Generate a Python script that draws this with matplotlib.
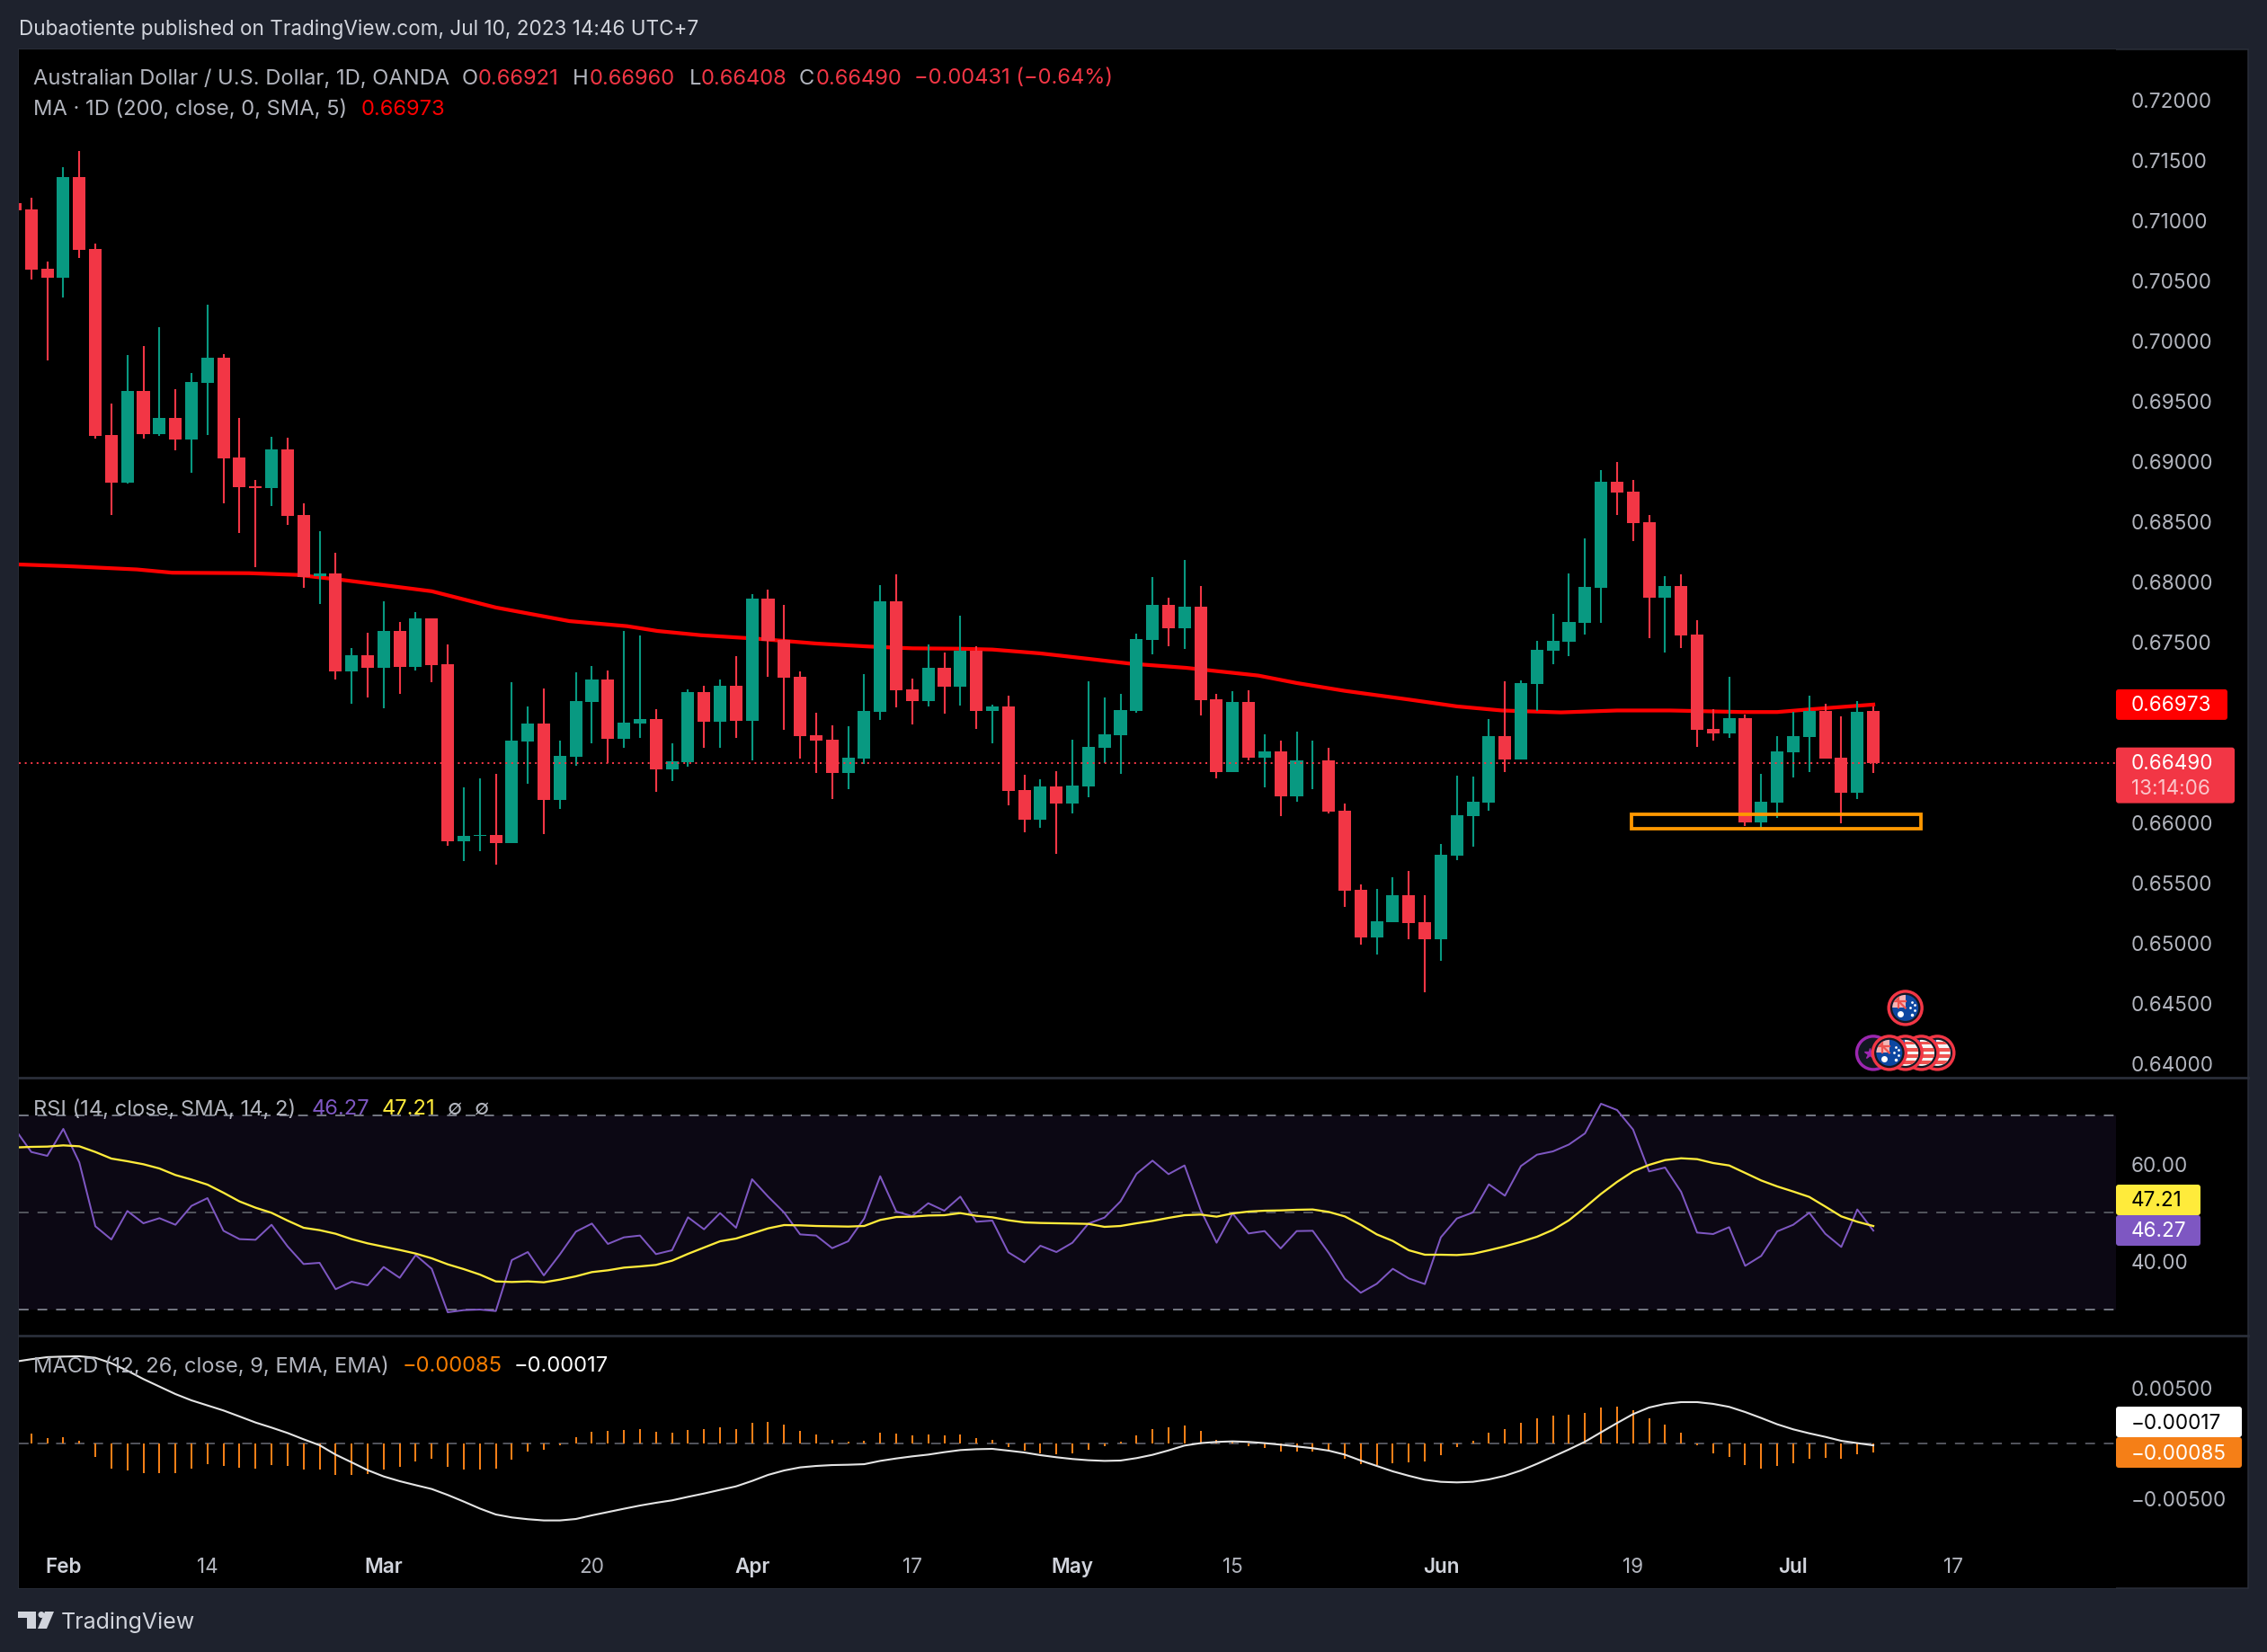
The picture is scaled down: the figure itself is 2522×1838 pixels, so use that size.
import numpy as np
import matplotlib
matplotlib.use("Agg")
import matplotlib.pyplot as plt
from matplotlib.patches import Rectangle, FancyBboxPatch, Circle, Polygon
from matplotlib.lines import Line2D
from matplotlib.transforms import ScaledTranslation

# ---------------- data ----------------
opens = [.71139,.71084,.70591,.70519,.71351,.70754,.69212,.68814,.69579,.69217,.69352,.69172,.69642,.69854,.69022,.68787,.68769,.69090,.68548,.68037,
         .68059,.67250,.67381,.67277,.67584,.67286,.67688,.67309,.65839,.65880,.65889,.65821,.66666,.66816,.66183,.66540,.66992,.67182,.66689,.66818,
         .66855,.66437,.66497,.67079,.66833,.67131,.66840,.67855,.67512,.67206,.66721,.66684,.66408,.66527,.66915,.67833,.67102,.67005,.67281,.67124,
         .67422,.66922,.66960,.66266,.66019,.66296,.66154,.66296,.66617,.66721,.66922,.67512,.67803,.67609,.67788,.67019,.66415,.66997,.66534,.66583,
         .66212,.66506,.66509,.66091,.65435,.65039,.65166,.65389,.65166,.65024,.65720,.66048,.66159,.66710,.66518,.67143,.67421,.67496,.67650,.67944,
         .68823,.68742,.68489,.67861,.67957,.67554,.66772,.66735,.66862,.65995,.66159,.66577,.66704,.66920,.66534,.66240,.66921]
highs = [.71139,.71184,.70650,.71437,.71568,.70804,.69470,.69877,.69949,.70108,.69592,.69728,.70293,.69881,.69352,.68837,.69194,.69190,.68642,.68412,
         .68231,.67440,.67571,.67829,.67657,.67743,.67688,.67471,.66286,.66359,.66395,.67159,.66956,.67105,.66671,.67241,.67290,.67254,.67584,.67549,
         .66937,.66654,.67102,.67131,.67184,.67378,.67893,.67930,.67803,.67251,.66907,.66803,.66796,.67228,.67967,.68057,.67191,.67475,.67408,.67714,
         .67460,.66975,.67049,.66393,.66355,.66422,.66684,.67169,.67034,.67064,.67564,.68034,.67863,.68176,.67960,.67064,.67087,.67094,.66725,.66673,
         .66750,.66673,.66614,.66153,.65479,.65442,.65541,.65593,.65389,.65816,.66382,.66376,.66852,.67168,.67174,.67502,.67728,.68062,.68353,.68922,
         .68987,.68838,.68548,.68040,.68056,.67675,.66936,.67205,.66889,.66397,.66710,.66914,.67047,.66979,.66877,.67004,.66960]
lows = [.71080,.70501,.69832,.70352,.70682,.69181,.68548,.68810,.69181,.69203,.69086,.68896,.69212,.68642,.68398,.68113,.68620,.68466,.67942,.67806,
        .67182,.66978,.67033,.66942,.67060,.67254,.67159,.65798,.65671,.65753,.65644,.65821,.66314,.65898,.66106,.66463,.66653,.66490,.66612,.66699,
        .66251,.66340,.66460,.66617,.66617,.66699,.66512,.67206,.66766,.66527,.66408,.66191,.66273,.66482,.66848,.66952,.66811,.66960,.66900,.66967,
        .66773,.66654,.66139,.65915,.65952,.65736,.66072,.66206,.66490,.66400,.66907,.67393,.67460,.67437,.66885,.66363,.66415,.66509,.66286,.66048,
        .66166,.66271,.66070,.65293,.64981,.64897,.65166,.65024,.64585,.64844,.65683,.65794,.66091,.66413,.66518,.66920,.67307,.67375,.67554,.67650,
        .68548,.68331,.67524,.67406,.67443,.66623,.66673,.66698,.65964,.65949,.66032,.66370,.66413,.66524,.65986,.66190,.66408]
closes = [.71080,.70582,.70519,.71351,.70750,.69203,.68814,.69579,.69217,.69352,.69172,.69651,.69854,.69018,.68778,.68774,.69090,.68538,.68032,.68059,
          .67250,.67381,.67277,.67584,.67286,.67688,.67299,.65839,.65884,.65889,.65821,.66671,.66816,.66183,.66544,.67001,.67182,.66689,.66825,.66855,
          .66437,.66505,.67079,.66833,.67131,.66840,.67855,.67505,.67199,.66713,.66676,.66408,.66534,.66922,.67833,.67094,.67005,.67281,.67124,.67422,
          .66922,.66960,.66258,.66019,.66296,.66154,.66303,.66624,.66728,.66930,.67520,.67803,.67609,.67788,.67012,.66415,.66997,.66534,.66583,.66212,
          .66509,.66512,.66085,.65429,.65039,.65176,.65389,.65160,.65024,.65726,.66054,.66165,.66710,.66518,.67152,.67428,.67502,.67660,.67950,.68823,
          .68733,.68480,.67861,.67957,.67548,.66762,.66735,.66862,.65995,.66165,.66583,.66710,.66920,.66524,.66240,.66914,.66490]
last_price = 0.66490

ma_bars = [-0.7,2.3,6.6,8.8,13.6,16.6,19.6,25,29,33.6,37.2,39.1,41.8,45.3,49,52.3,55,57.9,60,63,66.2,68.6,72.1,76.6,79,82,86.1,89,91.8,95.5,99,102.3,106.8,109,111,115]
ma_vals = [.68136,.68122,.68095,.68068,.68064,.68050,.68005,.67914,.67779,.67666,.67624,.67584,.67549,.67520,.67480,.67455,.67440,.67437,.67430,.67398,.67350,.67313,.67278,.67214,.67152,.67087,.67013,.66958,.66924,.66908,.66924,.66924,.66911,.66911,.66933,.66973]
zone_bars = [99.9, 117.95]
zone_prices = [.65940, .66063]

rsi = [67.10,62.47,61.67,67.22,60.31,47.16,44.44,50.31,47.78,48.83,47.47,51.36,52.96,46.23,44.51,44.38,47.47,43.02,39.38,39.63,
       34.20,35.74,35.00,38.77,36.54,41.23,38.40,29.44,29.88,30.00,29.69,40.19,41.85,37.04,41.36,46.05,47.72,43.52,44.88,45.25,
       41.42,42.22,49.01,46.54,49.88,46.85,56.85,53.27,50.00,45.49,45.25,42.65,44.07,48.77,57.47,50.19,49.26,51.91,50.37,53.27,
       48.09,48.33,41.79,39.75,43.15,41.85,43.77,47.72,48.95,52.28,57.96,60.68,57.90,59.69,50.56,43.77,49.81,45.68,46.17,42.59,
       46.17,46.23,41.67,36.36,33.46,35.31,38.40,36.42,35.25,44.88,48.77,50.00,55.80,53.46,59.57,61.91,62.59,64.01,66.30,72.41,
       71.11,67.10,58.46,59.26,54.26,45.86,45.56,46.98,39.01,41.05,46.11,47.47,49.94,45.62,42.90,50.62,46.27]
rsi_ma = [63.40,63.52,63.58,63.83,63.64,62.47,61.11,60.56,59.94,59.07,57.72,56.79,55.74,54.07,52.28,50.99,49.94,48.33,46.85,46.36,
          45.62,44.51,43.64,42.96,42.28,41.54,40.56,39.32,38.33,37.22,35.80,35.68,35.80,35.62,36.17,36.85,37.72,38.09,38.64,38.89,
          39.20,40.06,41.48,42.78,44.07,44.63,45.68,46.73,47.41,47.35,47.22,47.16,47.10,47.22,48.46,49.07,49.14,49.38,49.44,49.88,
          49.32,49.01,48.40,47.96,47.84,47.78,47.72,47.65,47.04,47.22,47.78,48.27,48.89,49.44,49.57,49.14,49.81,50.19,50.37,50.43,
          50.56,50.62,50.12,49.20,47.47,45.49,44.14,42.22,41.30,41.30,41.23,41.48,42.22,43.02,43.95,45.00,46.42,48.40,51.05,53.83,
          56.30,58.46,59.81,60.80,61.17,60.99,60.19,59.69,58.15,56.60,55.37,54.32,53.21,51.23,49.20,48.09,47.21]
macd = [.00742,.00764,.00783,.00788,.00791,.00777,.00728,.00660,.00584,.00516,.00448,.00391,.00345,.00299,.00245,.00190,.00144,.00095,.00038,-.00016,
        -.00101,-.00171,-.00242,-.00299,-.00342,-.00378,-.00413,-.00467,-.00527,-.00590,-.00644,-.00671,-.00687,-.00698,-.00698,-.00685,-.00652,-.00622,-.00592,-.00563,
        -.00538,-.00516,-.00484,-.00454,-.00421,-.00389,-.00340,-.00285,-.00245,-.00217,-.00204,-.00196,-.00193,-.00188,-.00158,-.00136,-.00117,-.00101,-.00079,-.00060,
        -.00052,-.00049,-.00065,-.00082,-.00106,-.00125,-.00141,-.00152,-.00158,-.00155,-.00133,-.00103,-.00063,-.00019,.00003,.00014,.00019,.00014,.00003,-.00011,
        -.00027,-.00043,-.00065,-.00101,-.00155,-.00204,-.00253,-.00293,-.00329,-.00348,-.00353,-.00348,-.00326,-.00293,-.00245,-.00185,-.00120,-.00054,.00016,.00101,
        .00185,.00266,.00326,.00359,.00375,.00375,.00359,.00332,.00285,.00231,.00174,.00128,.00092,.00060,.00024,.00003,-.00017]
hist = [.00090,.00049,.00057,.00022,-.00120,-.00228,-.00245,-.00269,-.00269,-.00269,-.00228,-.00187,-.00204,-.00223,-.00226,-.00196,-.00204,-.00236,-.00236,-.00285,
        -.00285,-.00274,-.00236,-.00212,-.00163,-.00139,-.00212,-.00236,-.00236,-.00228,-.00147,-.00073,-.00057,-.00016,.00057,.00106,.00114,.00122,.00130,.00106,
        .00098,.00122,.00130,.00147,.00130,.00187,.00196,.00171,.00114,.00082,.00033,.00016,.00024,.00098,.00090,.00073,.00082,.00073,.00082,.00049,
        .00033,-.00033,-.00065,-.00090,-.00098,-.00090,-.00057,-.00024,.00016,.00071,.00130,.00147,.00163,.00114,.00033,.00022,-.00024,-.00041,-.00073,-.00073,
        -.00073,-.00065,-.00139,-.00187,-.00196,-.00179,-.00171,-.00163,-.00106,-.00033,.00024,.00098,.00130,.00187,.00228,.00253,.00261,.00277,.00326,.00334,
        .00302,.00228,.00171,.00098,-.00016,-.00090,-.00122,-.00196,-.00228,-.00204,-.00179,-.00139,-.00130,-.00139,-.00098,-.00085]

time_ticks = [2,11,22,35,45,55,65,75,88,100,110,120]
time_labels = ["Feb","14","Mar","20","Apr","17","May","15","Jun","19","Jul","17"]
price_ticks = [.64,.645,.65,.655,.66,.675,.68,.685,.69,.695,.70,.705,.71,.715,.72]
rsi_ticks = [40, 60]
rsi_levels = [30, 50, 70]
macd_ticks = [-.005, .005]
event_bars = [115,119,118,117,116,117]
event_prices = [.64081,.64081,.64081,.64081,.64081,.64454]
event_kinds = ["star","us","us","us","au","au"]

# ---------------- style ----------------
W, H = 2522, 1838
FONT = ["Inter", "DejaVu Sans"]
plt.rcParams["font.family"] = FONT
FRAME, SEP = "#1e222d", "#2a2e39"
UP, DOWN = "#089981", "#f23645"
GREY, LIGHT = "#b2b5be", "#d1d4dc"
PX = 0.72   # 1 px in points at dpi 100
LEGEND = 23.7
fig = plt.figure(figsize=(W/100, H/100), dpi=100, facecolor=FRAME)

def make_axes(x0, x1, y0, y1):
    a = fig.add_axes([x0/W, 1-y1/H, (x1-x0)/W, (y1-y0)/H], facecolor="black")
    for s in a.spines.values():
        s.set_visible(False)
    a.yaxis.tick_right()
    a.tick_params(axis="y", length=0, pad=17*PX, labelcolor=GREY, labelsize=22.5*PX)
    a.set_xticks([])
    a.set_xlim(-0.774, 130.15)
    return a

# black canvas under the price scale
fig.add_artist(Rectangle((21/W, 1-1767/H), (2501-21)/W, (1767-55)/H, transform=fig.transFigure,
                         facecolor="black", edgecolor=SEP, linewidth=1.5*PX, zorder=-5))

ax = make_axes(21, 2354, 55, 1199)
ax_r = make_axes(21, 2354, 1199, 1486)
ax_m = make_axes(21, 2354, 1486, 1767)
ax.set_ylim(.63875, .72413)
ax_r.set_ylim(24.63, 77.78)
ax_m.set_ylim(-.013125, .00978)

# ---------------- main ----------------
bars = np.arange(len(opens)) - 1
o, h, l, c = map(np.array, (opens, highs, lows, closes))
cols = np.where(c >= o, UP, DOWN)
ax.plot(ma_bars, ma_vals, color="#ff0000", lw=4.2*PX, zorder=2, solid_joinstyle="round")
ax.vlines(bars, l, h, colors=cols, lw=2.1*PX, zorder=3)
ax.bar(bars, np.abs(c-o), bottom=np.minimum(o, c), width=0.79, color=cols, lw=0, zorder=4)
ax.axhline(last_price, color=DOWN, lw=2*PX, ls=(0, (1, 2.3)), zorder=5)
ax.add_patch(Rectangle((zone_bars[0], zone_prices[0]), zone_bars[1]-zone_bars[0], zone_prices[1]-zone_prices[0],
                       facecolor="none", edgecolor="#ff9800", lw=3.8*PX, zorder=6, joinstyle="miter"))
ax.set_yticks(price_ticks)
ax.set_yticklabels([f"{v:.5f}" for v in price_ticks])
for t in ax.get_yticklabels():
    t.set_transform(t.get_transform() + ScaledTranslation(0, -1.5/100, fig.dpi_scale_trans))

# ---------------- RSI ----------------
ax_r.axhspan(rsi_levels[0], rsi_levels[2], facecolor="#0c0814", lw=0, zorder=0)
for lv, col in zip(rsi_levels, ["#787b86", "#55575f", "#787b86"]):
    ax_r.axhline(lv, color=col, lw=1.9*PX, ls=(0, (5.7, 5.2)), zorder=1)
ax_r.plot(bars, rsi, color="#7e57c2", lw=2*PX, zorder=3)
ax_r.plot(bars, rsi_ma, color="#ffeb3b", lw=2.3*PX, zorder=4)
ax_r.set_yticks(rsi_ticks)
ax_r.set_yticklabels([f"{v:.2f}" for v in rsi_ticks])

# ---------------- MACD ----------------
ax_m.axhline(0, color="#55575f", lw=1.9*PX, ls=(0, (5.7, 5.2)), zorder=1)
ax_m.vlines(bars[1:], 0, hist, colors="#f57f17", lw=2*PX, zorder=2)
ax_m.plot(bars, macd, color="#e4e4e4", lw=2.1*PX, zorder=3)
ax_m.set_yticks(macd_ticks)
ax_m.set_yticklabels([f"{v:.5f}".replace("-", "\u2212") for v in macd_ticks])
ax_m.set_xticks(time_ticks)
ax_m.set_xticklabels(time_labels)
ax_m.tick_params(axis="x", length=0, pad=-34*PX, labelcolor=GREY, labelsize=22.5*PX)
for t, s in zip(ax_m.get_xticklabels(), time_labels):
    if s.isalpha():
        t.set_fontweight(600)
        t.set_color(LIGHT)

# ---------------- overlay in pixels ----------------
ov = fig.add_axes([0, 0, 1, 1], facecolor="none", zorder=20)
ov.set_xlim(0, W)
ov.set_ylim(H, 0)
ov.axis("off")

def txt(x, y, s, col=GREY, size=22.5, dy=1.5, **kw):
    kw.setdefault("ha", "left")
    ov.text(x, y+dy, s, color=col, fontsize=size*PX, va="center", **kw)

def to_px(a, x, y):
    dx, dy = a.transData.transform((x, y))
    return dx, H - dy

for yy in (1199, 1486):
    ov.add_line(Line2D([21, 2501], [yy, yy], color=SEP, lw=2.8*PX))

txt(21, 33, "Dubaotiente published on TradingView.com, Jul 10, 2023 14:46 UTC+7", LIGHT, dy=0)
txt(37, 86, "Australian Dollar / U.S. Dollar, 1D, OANDA", GREY, LEGEND)
for x, s in ((514, "O"), (637, "H"), (767, "L"), (889, "C")):
    txt(x, 86, s, GREY, LEGEND)
for x, s in ((532, "0.66921"), (656, "0.66960"), (780, "0.66408"), (908, "0.66490"),
             (1017, "\u22120.00431 (\u22120.64%)")):
    txt(x, 86, s, DOWN, LEGEND)
txt(37, 120.5, "MA \u00b7 1D (200, close, 0, SMA, 5)", GREY, LEGEND)
txt(402, 120.5, "0.66973", "#ff0000", LEGEND)
txt(37, 1233, "RSI (14, close, SMA, 14, 2)", GREY, LEGEND)
txt(347, 1233, "46.27", "#7e57c2", LEGEND)
txt(425, 1233, "47.21", "#ffeb3b", LEGEND)
txt(498, 1233, "\u2205", GREY, LEGEND)
txt(528, 1233, "\u2205", GREY, LEGEND)
txt(37, 1519, "MACD (12, 26, close, 9, EMA, EMA)", GREY, LEGEND)
txt(448, 1519, "\u22120.00085", "#f57c00", LEGEND)
txt(572, 1519, "\u22120.00017", "white", LEGEND)

def label(y0, y1, x1, col):
    ov.add_patch(FancyBboxPatch((2354, y0), x1-2354, y1-y0, boxstyle="round,pad=0,rounding_size=3",
                                facecolor=col, edgecolor="none", zorder=3))

ma_y = to_px(ax, 0, ma_vals[-1])[1]
px_y = to_px(ax, 0, last_price)[1]
label(ma_y-17, ma_y+17, 2478, "#ff0000")
txt(2371, ma_y, "0.66973", "white", zorder=4)
label(px_y-17, px_y+45, 2486, DOWN)
txt(2371, px_y, "0.66490", "white", zorder=4)
txt(2371, px_y+28, "13:14:06", "#fbc5ca", zorder=4)
label(1318, 1352, 2448, "#ffeb3b")
txt(2371, 1335, "47.21", "black", zorder=4)
label(1352, 1386, 2448, "#7e57c2")
txt(2371, 1369, "46.27", "white", zorder=4)
label(1565, 1599, 2494, "white")
txt(2371, 1582, "\u22120.00017", "black", zorder=4)
label(1599, 1633, 2494, "#f57f17")
txt(2371, 1616, "\u22120.00085", "white", zorder=4)

# TradingView logo
ov.add_patch(Polygon([(20,1793),(40,1793),(40,1812),(30,1812),(30,1800),(20,1800)], facecolor=LIGHT, edgecolor="none"))
ov.add_patch(Circle((46,1796.5), 3.5, facecolor=LIGHT, edgecolor="none"))
ov.add_patch(Polygon([(50,1793),(60,1793),(52,1812),(42,1812)], facecolor=LIGHT, edgecolor="none"))
txt(68, 1803, "TradingView", LIGHT, size=25, dy=2)

# event icons
def icon(cx, cy, kind, z):
    ring = "#9c27b0" if kind == "star" else DOWN
    ov.add_patch(Circle((cx, cy), 18.5, facecolor="#131722", edgecolor=ring, lw=3.4*PX, zorder=z))
    clip = Circle((cx, cy), 14.5, transform=ov.transData)
    if kind == "star":
        ov.plot([cx-4], [cy+1], marker="*", ms=9, color="#9c27b0", zorder=z+.1)
    elif kind == "us":
        base = Circle((cx, cy), 14.5, facecolor="#f5f5f5", edgecolor="none", zorder=z+.1)
        ov.add_patch(base)
        for k in range(-3, 4, 2):
            r = Rectangle((cx-15, cy+k*3.6-1.8), 30, 3.6, facecolor="#ef5350", edgecolor="none", zorder=z+.2)
            ov.add_patch(r); r.set_clip_path(clip)
        r = Rectangle((cx-15, cy-15), 14, 10, facecolor="#1e53a8", edgecolor="none", zorder=z+.3)
        ov.add_patch(r); r.set_clip_path(clip)
    else:
        ov.add_patch(Circle((cx, cy), 14.5, facecolor="#0d47a1", edgecolor="none", zorder=z+.1))
        r = Rectangle((cx-15, cy-15), 15, 15, facecolor="#f5b5b5", edgecolor="none", zorder=z+.2)
        ov.add_patch(r); r.set_clip_path(clip)
        for dx0, dy0, dx1, dy1 in ((-15,-15,0,0), (-15,-7,0,-7), (-8,-15,-8,0)):
            ln = Line2D([cx+dx0, cx+dx1], [cy+dy0, cy+dy1], color="#ef5350", lw=1.6, zorder=z+.3)
            ov.add_line(ln); ln.set_clip_path(clip)
        for dx, dy, ms in ((-6,7,5),(7,-6,2),(10,-3,2),(5,0,2),(10,3,2),(7,8,2.5)):
            ov.plot([cx+dx], [cy+dy], marker="o", ms=ms, color="white", mew=0, zorder=z+.4)

for n, (b, p, kd) in enumerate(zip(event_bars, event_prices, event_kinds)):
    cx, cy = to_px(ax, b, p)
    icon(cx, cy, kd, 5+n)

fig.savefig("out.png", dpi=100, facecolor=FRAME)
